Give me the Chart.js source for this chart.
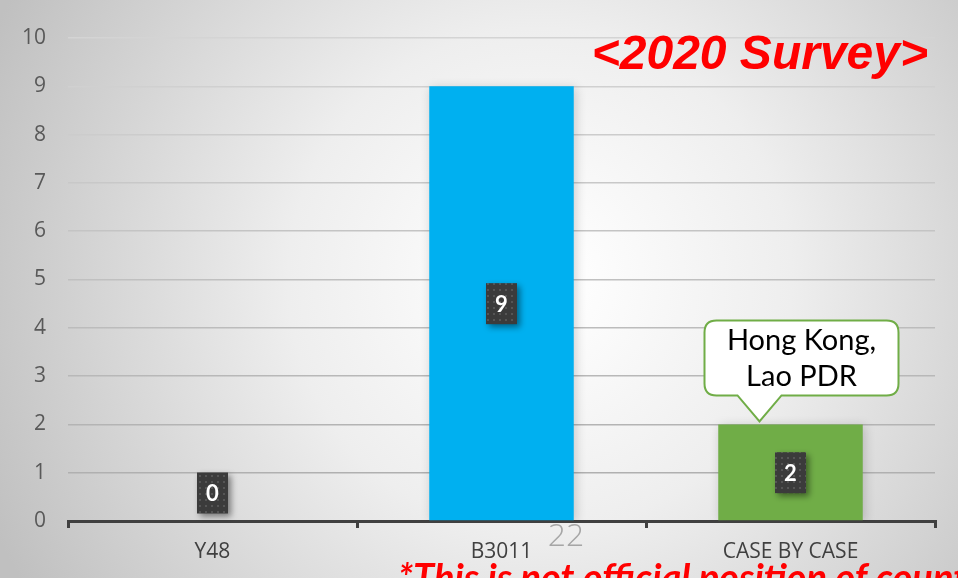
<!DOCTYPE html>
<html>
<head>
<meta charset="utf-8">
<script src="https://cdn.jsdelivr.net/npm/chart.js@4.4.1/dist/chart.umd.min.js"></script>
<style>
  html, body { margin: 0; padding: 0; background: #fff; }
  #wrap { position: relative; width: 958px; height: 578px; overflow: hidden; }
  canvas { display: block; }
</style>
</head>
<body>
<div id="wrap"><canvas id="surveyChart" width="958" height="578"></canvas></div>
<script>
// chart data
const categories = ['Y48', 'B3011', 'CASE BY CASE']
const counts = [0, 9, 2]
const barColors = ['#00B0F0', '#00B0F0', '#70AD47']
const yTicks = [0, 1, 2, 3, 4, 5, 6, 7, 8, 9, 10]
const calloutLines = ['Hong Kong,', 'Lao PDR']
const titleText = '<2020 Survey>'
const footnoteText = '*This is not official position of countries'
const pageNumber = '22'

const FONT = 'Lato, "Open Sans", sans-serif'
const AXIS_FONT = '"Open Sans", sans-serif'

// dotted fill used by the data label boxes
function makeDotPattern(ctx){
    const p = document.createElement('canvas')
    p.width = 6; p.height = 6
    const pc = p.getContext('2d')
    pc.fillStyle = '#3b3b3b'
    pc.fillRect(0, 0, 6, 6)
    pc.fillStyle = '#555555'
    pc.fillRect(1, 1, 2, 2)
    return ctx.createPattern(p, 'repeat')
}

const backgroundPlugin = {
    id: 'slideBackground',
    beforeDraw(chart){
        const {ctx, width, height} = chart
        ctx.save()
        const g = ctx.createRadialGradient(540, 280, 20, 540, 280, 600)
        g.addColorStop(0, '#ffffff')
        g.addColorStop(0.4, '#eeeeee')
        g.addColorStop(1, '#c0c0c0')
        ctx.fillStyle = g
        ctx.fillRect(0, 0, width, height)
        ctx.restore()
    }
}

const barShadowPlugin = {
    id: 'barShadow',
    beforeDatasetsDraw(chart){
        chart.ctx.save()
        chart.ctx.shadowColor = 'rgba(0,0,0,0.18)'
        chart.ctx.shadowBlur = 10
        chart.ctx.shadowOffsetX = 2
        chart.ctx.shadowOffsetY = 2
    },
    afterDatasetsDraw(chart){
        chart.ctx.restore()
    }
}

const overlayPlugin = {
    id: 'overlays',
    afterDatasetsDraw(chart){
        const {ctx, scales: {y}} = chart
        const meta = chart.getDatasetMeta(0)
        const pattern = makeDotPattern(ctx)

        // data label boxes
        meta.data.forEach((bar, i) => {
            const v = counts[i]
            const base = y.getPixelForValue(0)
            let cy = y.getPixelForValue(v / 2)
            if(base - cy < 28) cy = base - 28
            const w = 31, h = 41
            const x0 = bar.x - w / 2, y0 = cy - h / 2
            ctx.save()
            ctx.shadowColor = 'rgba(0,0,0,0.45)'
            ctx.shadowBlur = 6
            ctx.shadowOffsetX = 3
            ctx.shadowOffsetY = 3
            ctx.fillStyle = pattern
            ctx.fillRect(x0, y0, w, h)
            ctx.restore()
            ctx.save()
            ctx.fillStyle = '#ffffff'
            ctx.font = 'bold 22px ' + FONT
            ctx.textAlign = 'center'
            ctx.textBaseline = 'middle'
            ctx.fillText(String(v), bar.x, cy + 1)
            ctx.restore()
        })

        // callout above the green bar
        const green = meta.data[2]
        const tipX = green.x - 31, tipY = green.y - 3
        const bx = green.x - 86, bw = 194
        const by = green.y - 104, bh = 75
        const r = 12
        ctx.save()
        ctx.beginPath()
        ctx.moveTo(bx + r, by)
        ctx.lineTo(bx + bw - r, by)
        ctx.quadraticCurveTo(bx + bw, by, bx + bw, by + r)
        ctx.lineTo(bx + bw, by + bh - r)
        ctx.quadraticCurveTo(bx + bw, by + bh, bx + bw - r, by + bh)
        ctx.lineTo(tipX + 22, by + bh)
        ctx.lineTo(tipX, tipY)
        ctx.lineTo(tipX - 22, by + bh)
        ctx.lineTo(bx + r, by + bh)
        ctx.quadraticCurveTo(bx, by + bh, bx, by + bh - r)
        ctx.lineTo(bx, by + r)
        ctx.quadraticCurveTo(bx, by, bx + r, by)
        ctx.closePath()
        ctx.fillStyle = '#ffffff'
        ctx.fill()
        ctx.lineWidth = 2
        ctx.strokeStyle = '#70AD47'
        ctx.stroke()
        ctx.fillStyle = '#000000'
        ctx.font = '29px ' + FONT
        ctx.textAlign = 'center'
        ctx.textBaseline = 'middle'
        ctx.fillText(calloutLines[0], bx + bw / 2, by + 20)
        ctx.fillText(calloutLines[1], bx + bw / 2, by + 56)
        ctx.restore()
    },
    afterDraw(chart){
        const {ctx} = chart
        ctx.save()
        ctx.fillStyle = '#FF0000'
        ctx.font = 'italic bold 48px "Liberation Sans", Arial, sans-serif'
        ctx.textAlign = 'right'
        ctx.textBaseline = 'alphabetic'
        ctx.fillText(titleText, 928, 69)

        ctx.font = 'italic bold 38px Lato, "Open Sans", sans-serif'
        ctx.textAlign = 'left'
        ctx.fillText(footnoteText, 398, 591)

        ctx.fillStyle = '#a6a6a6'
        ctx.font = '300 32px "Open Sans", sans-serif'
        ctx.textAlign = 'center'
        ctx.fillText(pageNumber, 566, 546)
        ctx.restore()
    }
}

document.addEventListener('DOMContentLoaded', () => {
    const chartContext = document.getElementById('surveyChart').getContext('2d')

    new Chart(chartContext, {
        type: 'bar',
        data: {
            labels: categories,
            datasets: [{
                data: counts,
                backgroundColor: barColors,
                borderWidth: 0,
                categoryPercentage: 1,
                barPercentage: 0.5
            }]
        },
        options: {
            responsive: false,
            animation: false,
            layout: {
                padding: {left: 8, right: 23, top: 38, bottom: 14}
            },
            scales: {
                x: {
                    grid: {
                        drawOnChartArea: false,
                        drawTicks: true,
                        tickLength: 7,
                        color: '#404040',
                        lineWidth: 3,
                        offset: true
                    },
                    border: {display: true, color: '#404040', width: 3},
                    ticks: {
                        color: '#404040',
                        font: {family: AXIS_FONT, size: 21},
                        padding: 11
                    },
                    afterFit(scale){ scale.height = 43 }
                },
                y: {
                    min: 0,
                    max: 10,
                    afterBuildTicks(scale){
                        scale.ticks = yTicks.map(v => ({value: v}))
                    },
                    grid: {
                        drawTicks: false,
                        lineWidth: 1.5,
                        color: ctx => {
                            const v = ctx.tick ? ctx.tick.value : 0
                            const shade = Math.round(0xd4 - (10 - v) * 4)
                            return `rgb(${shade},${shade},${shade})`
                        }
                    },
                    border: {display: false},
                    ticks: {
                        color: '#595959',
                        font: {family: AXIS_FONT, size: 21},
                        padding: 22
                    },
                    afterFit(scale){ scale.width = 60 }
                }
            },
            plugins: {
                legend: {display: false},
                tooltip: {enabled: false}
            }
        },
        plugins: [backgroundPlugin, barShadowPlugin, overlayPlugin]
    })
})
</script>
</body>
</html>
